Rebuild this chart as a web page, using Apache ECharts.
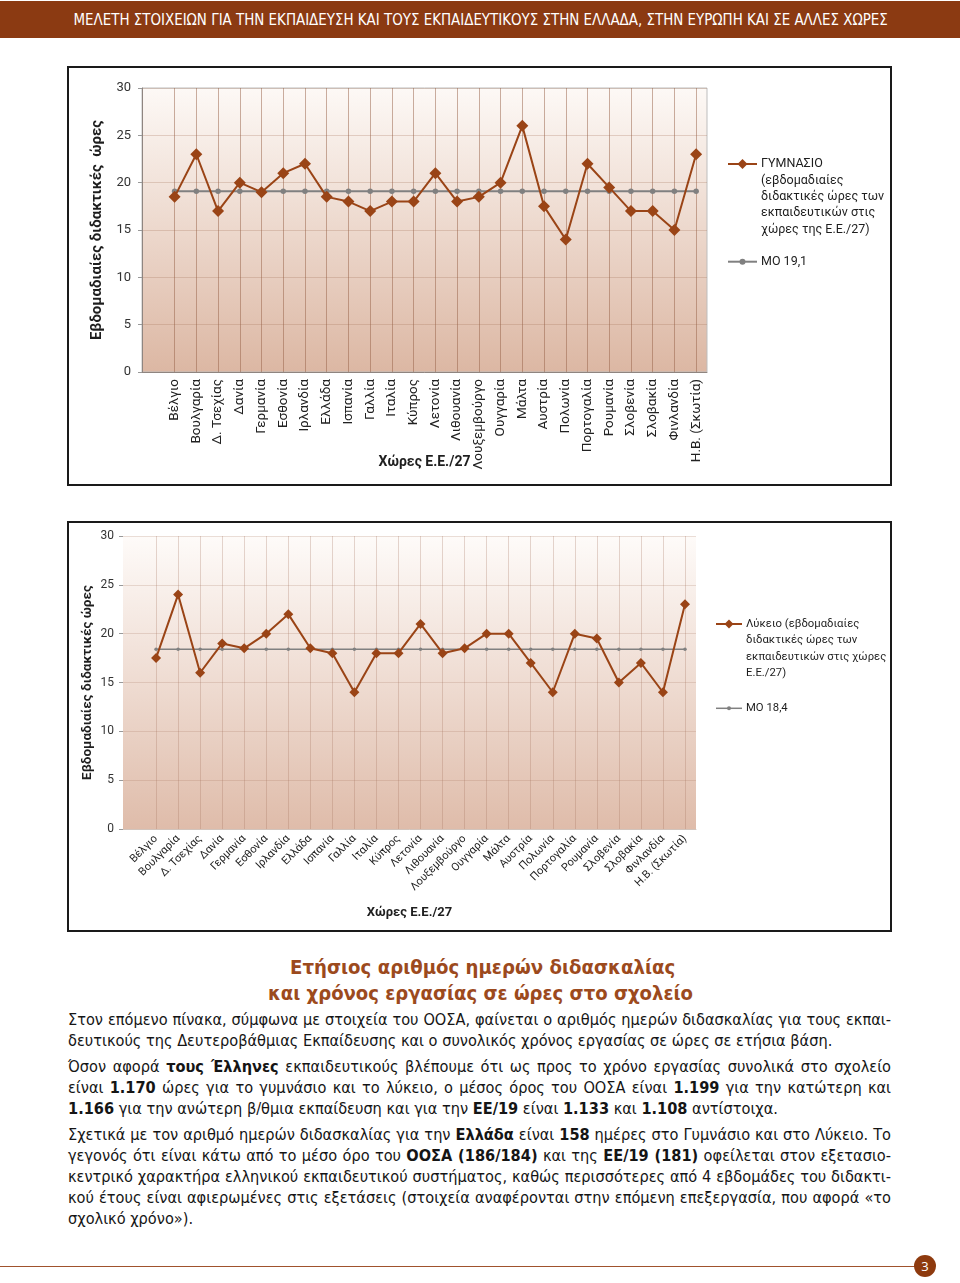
<!DOCTYPE html>
<html><head><meta charset="utf-8">
<script src="https://cdn.jsdelivr.net/npm/echarts@6/dist/echarts.min.js"></script>
<style>
html,body{margin:0;padding:0;background:#fff;}
body{width:960px;height:1283px;position:relative;overflow:hidden;font-family:"DejaVu Sans Condensed","DejaVu Sans",sans-serif;}
#hdr{position:absolute;left:0;top:1px;width:960px;height:37px;background:#8b3a12;}
.fit{position:absolute;white-space:nowrap;transform-origin:50% 50%;}
#hdrtxt{color:#fff;font-family:"Liberation Sans Narrow","DejaVu Sans Condensed",sans-serif;font-size:16px;line-height:18px;}
.box{position:absolute;left:67px;width:825px;box-sizing:border-box;border:2px solid #1a1a1a;background:#fff;}
#c1{top:66px;height:420px;}
#c2{top:521px;height:411px;}
.ttl{color:#9c4a1d;font-weight:bold;font-family:"DejaVu Sans",sans-serif;font-size:19px;line-height:22px;}
.ln{position:absolute;left:68px;white-space:nowrap;font-size:16.2px;line-height:19px;color:#151515;}
.ln b{font-weight:bold;}
#foot{position:absolute;left:0;top:1266px;width:916px;height:1px;background:#a0522d;}
#pg{position:absolute;left:914px;top:1255px;width:22px;height:22px;border-radius:50%;background:#8e3a0e;color:#fff;font-family:"Open Sans",sans-serif;font-size:13px;line-height:22px;text-align:center;}
</style></head>
<body>
<div id="hdr"></div>
<span id="hdrtxt" class="fit" data-cx="480" data-cy="20" data-w="814">ΜΕΛΕΤΗ ΣΤΟΙΧΕΙΩΝ ΓΙΑ ΤΗΝ ΕΚΠΑΙΔΕΥΣΗ ΚΑΙ ΤΟΥΣ ΕΚΠΑΙΔΕΥΤΙΚΟΥΣ ΣΤΗΝ ΕΛΛΑΔΑ, ΣΤΗΝ ΕΥΡΩΠΗ ΚΑΙ ΣΕ ΑΛΛΕΣ ΧΩΡΕΣ</span>
<div id="c1" class="box"></div>
<div id="c2" class="box"></div>
<span class="fit ttl" data-cx="482" data-cy="967" data-w="385">Ετήσιος αριθμός ημερών διδασκαλίας</span>
<span class="fit ttl" data-cx="480" data-cy="993" data-w="425">και χρόνος εργασίας σε ώρες στο σχολείο</span>

<div class="ln" data-cy="1019" data-full="1">Στον επόμενο πίνακα, σύμφωνα με στοιχεία του ΟΟΣΑ, φαίνεται ο αριθμός ημερών διδασκαλίας για τους εκπαι-</div>
<div class="ln" data-cy="1040">δευτικούς της Δευτεροβάθμιας Εκπαίδευσης και ο συνολικός χρόνος εργασίας σε ώρες σε ετήσια βάση.</div>
<div class="ln" data-cy="1066" data-full="1">Όσον αφορά <b>τους Έλληνες</b> εκπαιδευτικούς βλέπουμε ότι ως προς το χρόνο εργασίας συνολικά στο σχολείο</div>
<div class="ln" data-cy="1087" data-full="1">είναι <b>1.170</b> ώρες για το γυμνάσιο και το λύκειο, ο μέσος όρος του ΟΟΣΑ είναι <b>1.199</b> για την κατώτερη και</div>
<div class="ln" data-cy="1108"><b>1.166</b> για την ανώτερη β/θμια εκπαίδευση και για την <b>ΕΕ/19</b> είναι <b>1.133</b> και <b>1.108</b> αντίστοιχα.</div>
<div class="ln" data-cy="1134" data-full="1">Σχετικά με τον αριθμό ημερών διδασκαλίας για την <b>Ελλάδα</b> είναι <b>158</b> ημέρες στο Γυμνάσιο και στο Λύκειο. Το</div>
<div class="ln" data-cy="1155" data-full="1">γεγονός ότι είναι κάτω από το μέσο όρο του <b>ΟΟΣΑ (186/184)</b> και της <b>ΕΕ/19 (181)</b> οφείλεται στον εξετασιο-</div>
<div class="ln" data-cy="1176" data-full="1">κεντρικό χαρακτήρα ελληνικού εκπαιδευτικού συστήματος, καθώς περισσότερες από 4 εβδομάδες του διδακτι-</div>
<div class="ln" data-cy="1197" data-full="1">κού έτους είναι αφιερωμένες στις εξετάσεις (στοιχεία αναφέρονται στην επόμενη επεξεργασία, που αφορά «το</div>
<div class="ln" data-cy="1218">σχολικό χρόνο»).</div>

<div id="foot"></div>
<div id="pg">3</div>

<script>
// ---------- DATA ----------
const countries = ['Βέλγιο','Βουλγαρία','Δ. Τσεχίας','Δανία','Γερμανία','Εσθονία','Ιρλανδία','Ελλάδα','Ισπανία','Γαλλία','Ιταλία','Κύπρος','Λετονία','Λιθουανία','Λουξεμβούργο','Ουγγαρία','Μάλτα','Αυστρία','Πολωνία','Πορτογαλία','Ρουμανία','Σλοβενία','Σλοβακία','Φινλανδία','Η.Β. (Σκωτία)'];
const gymnasioHours = [18.5,23,17,20,19,21,22,18.5,18,17,18,18,21,18,18.5,20,26,17.5,14,22,19.5,17,17,15,23];
const gymnasioMean  = [19.1,19.1,19.1,19.1,19.1,19.1,19.1,19.1,19.1,19.1,19.1,19.1,19.1,19.1,19.1,19.1,19.1,19.1,19.1,19.1,19.1,19.1,19.1,19.1,19.1];
const lykeioHours   = [17.5,24,16,19,18.5,20,22,18.5,18,14,18,18,21,18,18.5,20,20,17,14,20,19.5,15,17,14,23];
const lykeioMean    = [18.4,18.4,18.4,18.4,18.4,18.4,18.4,18.4,18.4,18.4,18.4,18.4,18.4,18.4,18.4,18.4,18.4,18.4,18.4,18.4,18.4,18.4,18.4,18.4,18.4];
const yAxisRange = {min:0, max:30, step:5};
const xAxisTitle = 'Χώρες Ε.Ε./27';
const yAxisTitle1 = 'Εβδομαδιαίες διδακτικές  ώρες';
const yAxisTitle2 = 'Εβδομαδιαίες διδακτικές ώρες';
const legend1 = ['ΓΥΜΝΑΣΙΟ','(εβδομαδιαίες','διδακτικές ώρες των','εκπαιδευτικών στις','χώρες της Ε.Ε./27)'];
const legendMean1 = 'ΜΟ 19,1';
const legend2 = ['Λύκειο (εβδομαδιαίες','διδακτικές ώρες των','εκπαιδευτικών στις χώρες','Ε.Ε./27)'];
const legendMean2 = 'ΜΟ 18,4';

// ---------- STYLE ----------
const LINE_COLOR = '#9a4416';
const MEAN_COLOR = '#808080';
const FONT = 'Roboto';

function legendGraphic(c) {
  const d = c.dSize/2;
  const cx = c.x0 + c.iconW/2;
  return [
    {type:'line', z:10, shape:{x1:c.x0, y1:c.y0, x2:c.x0+c.iconW, y2:c.y0}, style:{stroke:LINE_COLOR, lineWidth:2}},
    {type:'polygon', z:11, shape:{points:[[cx,c.y0-d],[cx+d,c.y0],[cx,c.y0+d],[cx-d,c.y0]]}, style:{fill:LINE_COLOR}},
    {type:'text', z:10, x:c.x0+c.iconW+4, y:c.y0 - c.lh/2, style:{text:c.lines.join('\n'), fontFamily:FONT, fontSize:c.fs, lineHeight:c.lh, fill:'#1e1e1e', verticalAlign:'top'}},
    {type:'line', z:10, shape:{x1:c.x0, y1:c.my, x2:c.x0+c.iconW, y2:c.my}, style:{stroke:MEAN_COLOR, lineWidth:c.mw}},
    {type:'circle', z:11, shape:{cx:cx, cy:c.my, r:c.mr}, style:{fill:MEAN_COLOR}},
    {type:'text', z:10, x:c.x0+c.iconW+4, y:c.my - c.lh/2, style:{text:c.meanLabel, fontFamily:FONT, fontSize:c.fs, lineHeight:c.lh, fill:'#1e1e1e', verticalAlign:'top'}}
  ];
}

function makeOption(cfg) {
  const cats = [''].concat(countries);
  return {
    animation:false,
    textStyle:{fontFamily:FONT},
    grid:{left:cfg.grid.left, top:cfg.grid.top, width:cfg.grid.width, height:cfg.grid.height,
      outerBoundsMode:'none', containLabel:false,
      show:true, borderWidth:cfg.borderW, borderColor:'#bdbdbd',
      backgroundColor:{type:'linear', x:0, y:0, x2:0, y2:1, colorStops:[{offset:0,color:cfg.bgTop},{offset:1,color:cfg.bgBottom}]}},
    xAxis:{type:'category', data:cats, boundaryGap:true,
      name:xAxisTitle, nameLocation:'middle', nameGap:cfg.xNameGap, nameMoveOverlap:false,
      nameTextStyle:{fontFamily:FONT, fontSize:cfg.xNameSize, fontWeight:'bold', color:'#1e1e1e'},
      axisLine:{show:true, lineStyle:{color:cfg.axisColor, width:1}},
      axisTick:{show:false},
      axisLabel:{interval:0, rotate:cfg.rot, fontSize:cfg.xLabelSize, color:'#222', margin:cfg.xMargin, fontFamily:FONT, hideOverlap:false},
      splitLine:{show:false}},
    yAxis:{type:'value', min:yAxisRange.min, max:yAxisRange.max, interval:yAxisRange.step,
      name:cfg.yTitle, nameLocation:'middle', nameGap:cfg.yNameGap, nameMoveOverlap:false,
      nameTextStyle:{fontFamily:FONT, fontSize:cfg.yNameSize, fontWeight:'bold', color:'#1e1e1e'},
      axisLine:{show:cfg.yLine, lineStyle:{color:cfg.axisColor, width:1}},
      axisTick:{show:true, length:4, lineStyle:{color:'#999'}},
      axisLabel:{fontSize:cfg.yLabelSize, color:'#333', margin:cfg.yMargin, fontFamily:FONT},
      splitLine:{show:true, lineStyle:{color:cfg.hGrid, width:1}}},
    series:[
      {type:'line', name:'grid', z:1, silent:true, data:[], 
        markLine:{silent:true, z:1, symbol:'none', label:{show:false}, animation:false,
          lineStyle:{color:cfg.vGrid, width:1, type:'solid'},
          data:countries.map(c=>({xAxis:c}))}},
      {type:'line', name:'mean', z:3, data:[null].concat(cfg.mean), symbol:'circle', symbolSize:cfg.meanSym,
        lineStyle:{color:MEAN_COLOR, width:cfg.meanW}, itemStyle:{color:MEAN_COLOR}},
      {type:'line', name:'hours', z:4, data:[null].concat(cfg.values), symbol:'diamond', symbolSize:cfg.dSym,
        lineStyle:{color:LINE_COLOR, width:2}, itemStyle:{color:LINE_COLOR}}
    ],
    graphic:legendGraphic(cfg.legend)
  };
}

const ch1 = echarts.init(document.getElementById('c1'));
ch1.setOption(makeOption({
  grid:{left:73, top:20, width:565, height:284}, borderW:1,
  bgTop:'#fdf9f6', bgBottom:'#dcb7a3', axisColor:'#8f8580', yLine:true,
  hGrid:'rgba(165,115,90,0.28)', vGrid:'rgba(150,95,70,0.5)',
  rot:90, xLabelSize:13.5, xMargin:7, xNameGap:83, xNameSize:14,
  yTitle:yAxisTitle1, yNameGap:37, yNameSize:15, yLabelSize:13, yMargin:11,
  values:gymnasioHours, mean:gymnasioMean, dSym:12, meanSym:5.5, meanW:2,
  legend:{x0:659, y0:96, iconW:29, dSize:10, lh:16.4, fs:12.5, lines:legend1, my:193.7, mw:2, mr:3, meanLabel:legendMean1}
}));

const ch2 = echarts.init(document.getElementById('c2'));
ch2.setOption(makeOption({
  grid:{left:54, top:13, width:573, height:293}, borderW:0,
  bgTop:'#fefbf9', bgBottom:'#dfbcaa', axisColor:'#d2c4bc', yLine:false,
  hGrid:'rgba(165,115,90,0.22)', vGrid:'rgba(160,110,90,0.28)',
  rot:45, xLabelSize:11, xMargin:8, xNameGap:77, xNameSize:13,
  yTitle:yAxisTitle2, yNameGap:28, yNameSize:13.5, yLabelSize:12, yMargin:9,
  values:lykeioHours, mean:lykeioMean, dSym:10, meanSym:3.5, meanW:1.5,
  legend:{x0:647, y0:101, iconW:26, dSize:9, lh:16.5, fs:11.3, lines:legend2, my:185.3, mw:1.5, mr:2, meanLabel:legendMean2}
}));

// ---------- TEXT LAYOUT ----------
function layoutText(){
  document.querySelectorAll('.fit').forEach(el=>{
    el.style.transform = 'none';
    const w = el.offsetWidth, h = el.offsetHeight;
    const cx = +el.dataset.cx, cy = +el.dataset.cy, tw = +el.dataset.w;
    el.style.left = (cx - w/2) + 'px';
    el.style.top = (cy - h/2) + 'px';
    el.style.transform = 'scaleX(' + (tw/w) + ')';
  });
  document.querySelectorAll('.ln').forEach(el=>{
    el.style.top = (+el.dataset.cy - 9.5) + 'px';
    el.style.wordSpacing = '0px';
    if (el.dataset.full) {
      const w = el.getBoundingClientRect().width;
      const n = (el.textContent.match(/ /g)||[]).length;
      el.style.wordSpacing = ((823 - w)/n) + 'px';
    }
  });
}
layoutText();
if (document.fonts && document.fonts.ready) { document.fonts.ready.then(layoutText); }
</script>
</body></html>
